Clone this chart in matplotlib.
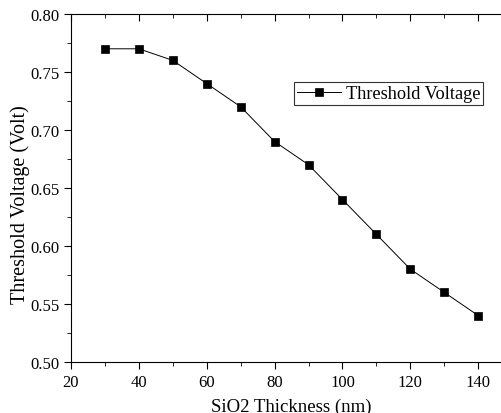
import matplotlib
matplotlib.use('Agg')
import matplotlib.pyplot as plt
from matplotlib.ticker import MultipleLocator

plt.rcParams['font.family'] = ['Liberation Serif', 'DejaVu Serif']

thickness = [30, 40, 50, 60, 70, 80, 90, 100, 110, 120, 130, 140]
vth = [0.77, 0.77, 0.76, 0.74, 0.72, 0.69, 0.67, 0.64, 0.61, 0.58, 0.56, 0.54]

fig = plt.figure(figsize=(5.02, 4.14), dpi=100)
ax = fig.add_axes([0.1414, 0.1232, 0.8586, 0.8406])

ax.plot(thickness, vth, '-s', color='black', lw=0.7, markersize=5.5,
        markeredgewidth=0.5, label='Threshold Voltage')

ax.set_xlim(20, 147)
ax.set_ylim(0.50, 0.80)
ax.xaxis.set_major_locator(MultipleLocator(20))
ax.xaxis.set_minor_locator(MultipleLocator(10))
ax.yaxis.set_major_locator(MultipleLocator(0.05))
ax.yaxis.set_minor_locator(MultipleLocator(0.025))
ax.yaxis.set_major_formatter(plt.FormatStrFormatter('%.2f'))

ax.spines['right'].set_visible(False)
ax.tick_params(axis='both', which='major', direction='out', length=5, labelsize=12)
ax.tick_params(axis='both', which='minor', direction='out', length=3)
# top ticks point inward
ax.tick_params(axis='x', which='both', top=True)
for t in ax.xaxis.get_major_ticks() + ax.xaxis.get_minor_ticks():
    t.tick2line.set_marker(matplotlib.lines.TICKDOWN)
ax.set_xlabel('SiO2 Thickness (nm)', fontsize=13.5, va='top')
ax.set_ylabel('Threshold Voltage (Volt)', fontsize=14.5, va='center')
ax.xaxis.set_label_coords(0.51, -0.103)
ax.yaxis.set_label_coords(-0.118, 0.455)

leg = ax.legend(loc='upper left', bbox_to_anchor=(0.518, 0.804), fontsize=13.2,
                frameon=True, fancybox=False, edgecolor='black',
                handlelength=2.4, handletextpad=0.25, borderpad=0.15,
                borderaxespad=0)
leg.get_frame().set_linewidth(0.8)

fig.savefig('out.png', dpi=100)
